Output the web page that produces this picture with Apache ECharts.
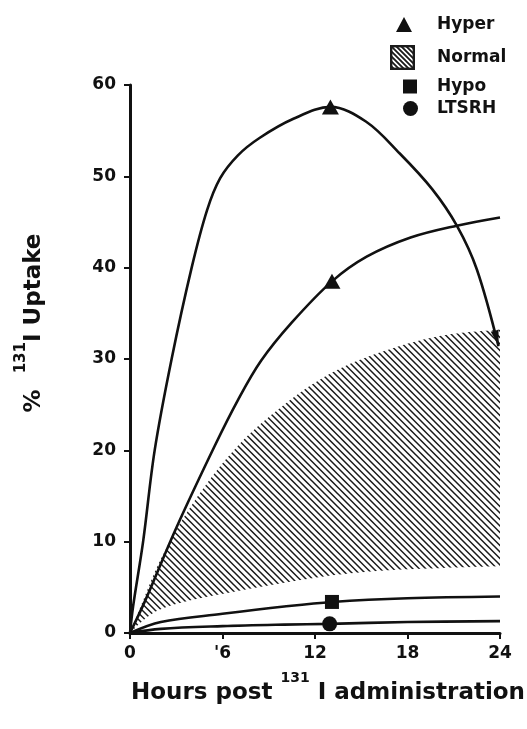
<!DOCTYPE html>
<html>
<head>
<meta charset="utf-8">
<script src="https://cdn.jsdelivr.net/npm/echarts@6/dist/echarts.min.js"></script>
<style>
html,body{margin:0;padding:0;background:#fff;}
#chart{width:527px;height:729px;}
</style>
</head>
<body>
<div id="chart"></div>
<script>
// ---- data ----
const xTickValues = [0, 6, 12, 18, 24];
const xTickLabels = ['0', "'6", '12', '18', '24'];
const yTickValues = [0, 10, 20, 30, 40, 50, 60];
const yTickLabels = ['0', '10', '20', '30', '40', '50', '60'];

const hyperHigh = [[0,0],[0.2,2.9],[0.85,10],[1.6,20],[2.7,30],[4.0,40],[5.0,46.3],[5.85,49.8],[7,52.3],[8.4,54.2],[10.6,56.3],[13,57.6],[15.3,56],[17.5,52.5],[19.6,48.6],[21.2,44.6],[22.5,39.8],[23.9,31.4]];
const hyperLow = [[0,0],[1,3.6],[3,11.5],[5.5,20.5],[7,25.5],[8.5,29.8],[10.5,34],[13.1,38.5],[15.35,41.2],[18.2,43.3],[21.2,44.6],[24,45.5]];
const normalX = [0, 1, 2, 4, 7, 10, 13, 16, 20, 24];
const normalLow = [0, 1.6, 2.6, 3.6, 4.6, 5.5, 6.3, 6.8, 7.1, 7.3];
const normalHigh = [0, 4.2, 8.1, 14, 20.5, 25, 28.4, 30.6, 32.5, 33.2];
const hypo = [[0,0],[2,1.2],[6,2.1],[10,2.9],[13.1,3.4],[18,3.8],[24,4.0]];
const ltsrh = [[0,0],[2,0.45],[6,0.75],[10,0.92],[12.95,1.0],[18,1.2],[24,1.3]];
const hyperMarks = [[13,57.6],[13.1,38.5]];
const hypoMarks = [[13.1,3.4]];
const ltsrhMarks = [[12.95,1.0]];
const arrowPoint = [[23.78,32.3]];

// ---- hatch patterns ----
function hatchCanvas(size, period, lw) {
  const c = document.createElement('canvas');
  c.width = size; c.height = size;
  const g = c.getContext('2d');
  g.strokeStyle = '#1a1a1a';
  g.lineWidth = lw;
  g.beginPath();
  for (let k = -4; k <= 4; k++) {
    g.moveTo(k*period - 3, -3);
    g.lineTo(k*period + size + 3, size + 3);
  }
  g.stroke();
  return c;
}
const pattern = hatchCanvas(13, 6.5, 1.5);
function legendHatch() {
  const s = 25;
  const c = document.createElement('canvas');
  c.width = s; c.height = s;
  const g = c.getContext('2d');
  g.fillStyle = '#fff'; g.fillRect(0,0,s,s);
  g.strokeStyle = '#1a1a1a'; g.lineWidth = 1.8;
  g.beginPath();
  for (let k = -6; k <= 6; k++) {
    g.moveTo(k*5, 0);
    g.lineTo(k*5 + s, s);
  }
  g.stroke();
  g.lineWidth = 2.4;
  g.strokeRect(1.2,1.2,s-2.4,s-2.4);
  return c.toDataURL();
}

const FONT = 'DejaVu Sans';
const black = '#111';

const chart = echarts.init(document.getElementById('chart'), null, {renderer: 'canvas'});

function legendAt(name, icon, left, top, w, h, pad) {
  return {
    data: [{name: name, icon: icon, itemStyle: {color: black, opacity: 1}}],
    left: left, top: top, padding: 0,
    itemWidth: w, itemHeight: h,
    selectedMode: false,
    orient: 'vertical',
    textStyle: {fontFamily: FONT, fontWeight: 'bold', fontSize: 17, color: black, padding: [0,0,0,pad]}
  };
}

const lineCommon = {type: 'line', smooth: 0.35, symbol: 'none', showSymbol: false, silent: true};

const option = {
  backgroundColor: '#fff',
  animation: false,
  grid: {left: 130, top: 85, width: 370, height: 548, containLabel: false, outerBoundsMode: 'none'},
  legend: [
    legendAt('Hyper', 'triangle', 396, 16, 16, 15, 20),
    legendAt('Normal', 'image://' + legendHatch(), 390, 45, 25, 25, 17),
    legendAt('Hypo', 'rect', 403, 78, 14, 14, 15),
    legendAt('LTSRH', 'circle', 403, 100, 15, 15, 14)
  ],
  xAxis: {
    type: 'value', min: 0, max: 24, interval: 6, z: 6,
    axisLine: {show: true, lineStyle: {color: black, width: 3}},
    axisTick: {show: true, length: 6, lineStyle: {color: black, width: 2}},
    splitLine: {show: false},
    axisLabel: {
      margin: 12, fontFamily: FONT, fontWeight: 'bold', fontSize: 17, color: black,
      formatter: v => { const i = xTickValues.indexOf(v); return i >= 0 ? xTickLabels[i] : ''; }
    },
    name: '{t|Hours post }{s|131}{t| I administration}',
    nameLocation: 'middle',
    nameGap: 38,
    nameTextStyle: {
      padding: [0,0,0,26],
      rich: {
        t: {fontFamily: FONT, fontWeight: 'bold', fontSize: 23, color: black, lineHeight: 34, verticalAlign: 'bottom'},
        s: {fontFamily: FONT, fontWeight: 'bold', fontSize: 14, color: black, lineHeight: 16, verticalAlign: 'top'}
      }
    }
  },
  yAxis: {
    type: 'value', min: 0, max: 60, interval: 10, z: 6,
    axisLine: {show: true, lineStyle: {color: black, width: 3}},
    axisTick: {show: true, length: 6, lineStyle: {color: black, width: 2}},
    splitLine: {show: false},
    axisLabel: {
      margin: 14, fontFamily: FONT, fontWeight: 'bold', fontSize: 17, color: black,
      formatter: v => { const i = yTickValues.indexOf(v); return i >= 0 ? yTickLabels[i] : ''; }
    },
    name: '{t|%  }{s|131}{t|I Uptake}',
    nameLocation: 'middle',
    nameRotate: 90,
    nameGap: 84,
    nameTextStyle: {
      padding: [0,0,0,72],
      rich: {
        t: {fontFamily: FONT, fontWeight: 'bold', fontSize: 23, color: black, lineHeight: 32, verticalAlign: 'bottom'},
        s: {fontFamily: FONT, fontWeight: 'bold', fontSize: 15, color: black, lineHeight: 16, verticalAlign: 'top'}
      }
    }
  },
  series: [
    Object.assign({}, lineCommon, {
      name: 'Normal',
      data: normalX.map((x, i) => [x, normalHigh[i]]),
      lineStyle: {width: 0, opacity: 0},
      itemStyle: {color: black},
      areaStyle: {color: {image: pattern, repeat: 'repeat'}, opacity: 1},
      z: 1
    }),
    Object.assign({}, lineCommon, {
      name: 'NormalLowerEdge',
      data: normalX.map((x, i) => [x, normalLow[i]]),
      lineStyle: {width: 0, opacity: 0},
      areaStyle: {color: '#fff', opacity: 1},
      z: 2
    }),
    Object.assign({}, lineCommon, {name: 'HyperHighCurve', data: hyperHigh, lineStyle: {color: black, width: 2.6}, z: 3}),
    Object.assign({}, lineCommon, {name: 'HyperLowCurve', data: hyperLow, lineStyle: {color: black, width: 2.6}, z: 3}),
    Object.assign({}, lineCommon, {name: 'HypoCurve', data: hypo, lineStyle: {color: black, width: 2.6}, z: 3}),
    Object.assign({}, lineCommon, {name: 'LTSRHCurve', data: ltsrh, lineStyle: {color: black, width: 2.6}, z: 3}),
    {name: 'Hyper', type: 'scatter', symbol: 'triangle', symbolSize: [17, 15], data: hyperMarks, itemStyle: {color: black, opacity: 1}, z: 5},
    {name: 'Hypo', type: 'scatter', symbol: 'rect', symbolSize: 14, data: hypoMarks, itemStyle: {color: black, opacity: 1}, z: 5},
    {name: 'LTSRH', type: 'scatter', symbol: 'circle', symbolSize: 15, data: ltsrhMarks, itemStyle: {color: black, opacity: 1}, z: 5},
    {name: 'Arrow', type: 'scatter', symbol: 'path://M0,0 L6,0 L3,13 Z', symbolSize: [8, 15], symbolRotate: 15, data: arrowPoint, itemStyle: {color: black, opacity: 1}, z: 5}
  ]
};
chart.setOption(option);
</script>
</body>
</html>
